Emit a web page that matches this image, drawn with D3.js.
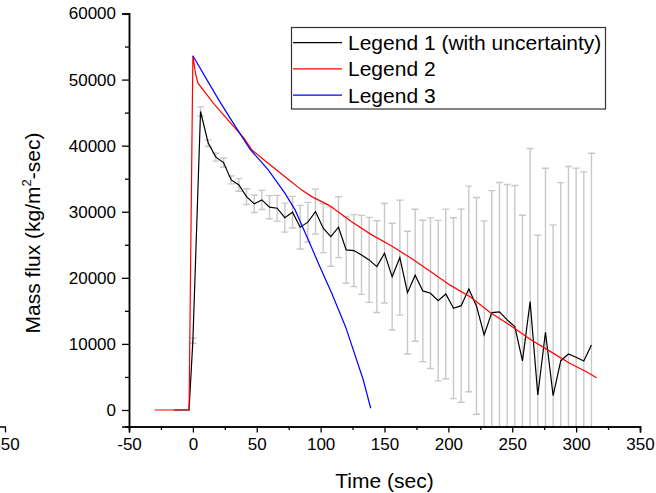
<!DOCTYPE html>
<html>
<head>
<meta charset="utf-8">
<script src="https://cdn.jsdelivr.net/npm/d3@7"></script>
<style>
  body { margin: 0; background: #fff; }
  svg { display: block; font-family: Arial, "Liberation Sans", sans-serif; }
</style>
</head>
<body>
<div id="chart"></div>
<script>
// Legend 1 (with uncertainty) - measured points
const timeBlack = [-15, -3, 0, 6, 12, 18, 24, 30, 36, 42, 48, 54, 60, 66, 72, 78, 84, 90, 96, 102, 108, 114,
  120, 126, 132, 138, 144, 150, 156, 162, 168, 174, 180, 186, 192, 198, 204, 210, 216, 222, 228, 234,
  240, 246, 252, 258, 264, 270, 276, 282, 288, 294, 300, 306, 312];
const fluxBlack = [0, 0, 10500, 45170, 40380, 38260, 37440, 34820, 34060, 32290, 31190, 31790, 30690, 30530,
  29110, 29930, 27660, 28420, 30020, 27510, 26240, 27660, 24220, 24120, 23470, 22710, 21700, 23720,
  20180, 23060, 17760, 20390, 18020, 17670, 16550, 17560, 15400, 15790, 18320, 15750, 11360, 14730,
  14840, 13630, 12610, 7420, 16400, 2270, 11760, 2170, 7460, 8480, 7980, 7420, 9840];
const errBlack = [0, 0, 400, 700, 500, 600, 700, 600, 950, 1200, 1300, 1450, 1750, 1950, 2200, 2400, 3300,
  3000, 3400, 3700, 4500, 4600, 5050, 5450, 5980, 6430, 6940, 7520, 8070, 8700, 9280, 9990, 10700,
  11400, 12140, 12840, 13680, 14610, 15550, 16400, 17260, 18470, 19580, 20490, 21350, 22060, 23160,
  24180, 24830, 25840, 26950, 28360, 28620, 28620, 29020];

// Legend 2
const timeRed = [-30, -3, 0, 2, 4, 10, 16, 24, 32, 40, 46, 56, 67, 76, 85, 93, 106, 115, 124, 140, 155,
  170, 186, 201, 217, 233, 248, 264, 280, 295, 308, 316];
const fluxRed = [0, 0, 53600, 50980, 49460, 47950, 46430, 44660, 42890, 41140, 39400, 37800, 36080, 34700,
  33310, 32290, 31040, 29800, 28510, 26500, 24900, 23060, 20940, 18930, 17150, 14730, 12870, 10700,
  8830, 7070, 5800, 4890];

// Legend 3
const timeBlue = [0, 10, 20, 30, 44.7, 59, 72, 80, 90.4, 98.2, 108.7, 119.5, 133.4, 139.2];
const fluxBlue = [53600, 50300, 47000, 43900, 39470, 36340, 32810, 30280, 25740, 22210, 17670, 12610, 4540, 260];

const legendLabels = ["Legend 1 (with uncertainty)", "Legend 2", "Legend 3"];
const legendColors = ["#000000", "#ff0000", "#0000ff"];

const xTicks = [-50, 0, 50, 100, 150, 200, 250, 300, 350];
const yTicks = [0, 10000, 20000, 30000, 40000, 50000, 60000];

const width = 656, height = 493;
const x = d3.scaleLinear().domain([-50, 350]).range([129, 640]);
const y = d3.scaleLinear().domain([-2500, 60000]).range([426.5, 13.5]);
const plain = d => String(d);   // hyphen minus, like the original

const svg = d3.select("#chart").append("svg")
  .attr("width", width)
  .attr("height", height);

svg.append("clipPath").attr("id", "plot")
  .append("rect")
  .attr("x", x(-50)).attr("y", y(60000) - 1)
  .attr("width", x(350) - x(-50)).attr("height", y(-2500) - y(60000) + 1);

// error bars
const black = timeBlack.map((t, i) => ({ t, v: fluxBlack[i], e: errBlack[i] }));
const bars = svg.append("g").attr("clip-path", "url(#plot)")
  .selectAll("g").data(black.filter(d => d.e > 0)).enter().append("g")
  .attr("stroke", "#c8c8c8").attr("stroke-width", 1.4);
bars.append("line")
  .attr("x1", d => x(d.t)).attr("x2", d => x(d.t))
  .attr("y1", d => y(d.v + d.e)).attr("y2", d => y(d.v - d.e));
bars.append("line")
  .attr("x1", d => x(d.t) - 3.5).attr("x2", d => x(d.t) + 3.5)
  .attr("y1", d => y(d.v + d.e)).attr("y2", d => y(d.v + d.e));
bars.append("line")
  .attr("x1", d => x(d.t) - 3.5).attr("x2", d => x(d.t) + 3.5)
  .attr("y1", d => y(d.v - d.e)).attr("y2", d => y(d.v - d.e));

const line = d3.line().x(d => x(d[0])).y(d => y(d[1]));
const series = [
  [timeBlack, fluxBlack, legendColors[0]],
  [timeRed, fluxRed, legendColors[1]],
  [timeBlue, fluxBlue, legendColors[2]]
];
series.forEach(([ts, vs, c]) => {
  svg.append("path")
    .datum(ts.map((t, i) => [t, vs[i]]))
    .attr("fill", "none")
    .attr("stroke", c)
    .attr("stroke-width", 1.2)
    .attr("d", line);
});

// axes
svg.append("g")
  .attr("transform", `translate(0,${y(-2500)})`)
  .call(d3.axisBottom(x).tickValues(xTicks).tickSize(6).tickPadding(5).tickFormat(plain));
svg.append("g")
  .attr("transform", `translate(0,${y(-2500)})`)
  .call(d3.axisBottom(x).tickValues(d3.range(-25, 350, 50)).tickSize(3.5).tickFormat(""));
svg.append("g")
  .attr("transform", `translate(${x(-50)},0)`)
  .call(d3.axisLeft(y).tickValues(yTicks).tickSize(7).tickPadding(6).tickFormat(plain));
svg.append("g")
  .attr("transform", `translate(${x(-50)},0)`)
  .call(d3.axisLeft(y).tickValues(d3.range(5000, 60000, 10000)).tickSize(4).tickFormat(""));

// remnant of the neighbouring panel at the left edge
const xPrev = d3.scaleLinear().domain([300, 350]).range([5 - 64, 5]);
svg.append("g")
  .attr("transform", `translate(0,${y(-2500)})`)
  .call(d3.axisBottom(xPrev).tickValues([350]).tickSize(6).tickPadding(5).tickSizeOuter(0).tickFormat(plain));

svg.selectAll(".domain").attr("stroke-width", 1.5);
svg.selectAll(".tick line").attr("stroke-width", 1.3);
svg.selectAll(".tick text").attr("font-size", 17).attr("font-family", null).attr("fill", "#000");

// axis titles
svg.append("text")
  .attr("x", (x(-50) + x(350)) / 2).attr("y", 488)
  .attr("text-anchor", "middle").attr("font-size", 21)
  .text("Time (sec)");
const yt = svg.append("text")
  .attr("transform", `translate(40,233) rotate(-90)`)
  .attr("text-anchor", "middle").attr("font-size", 21);
yt.append("tspan").text("Mass flux (kg/m");
yt.append("tspan").attr("font-size", 13).attr("dy", -9).text("2");
yt.append("tspan").attr("dy", 9).text("-sec)");

// legend
const lg = svg.append("g");
lg.append("rect")
  .attr("x", 291.5).attr("y", 27.5).attr("width", 314).attr("height", 81.5)
  .attr("fill", "#fff").attr("stroke", "#333").attr("stroke-width", 1.2);
legendLabels.forEach((lab, i) => {
  const ly = 42.7 + i * 26.2;
  lg.append("line")
    .attr("x1", 293).attr("x2", 342).attr("y1", ly).attr("y2", ly)
    .attr("stroke", legendColors[i]).attr("stroke-width", 1.2);
  lg.append("text")
    .attr("x", 348).attr("y", ly + 7.5)
    .attr("font-size", 21)
    .text(lab);
});
</script>
</body>
</html>
